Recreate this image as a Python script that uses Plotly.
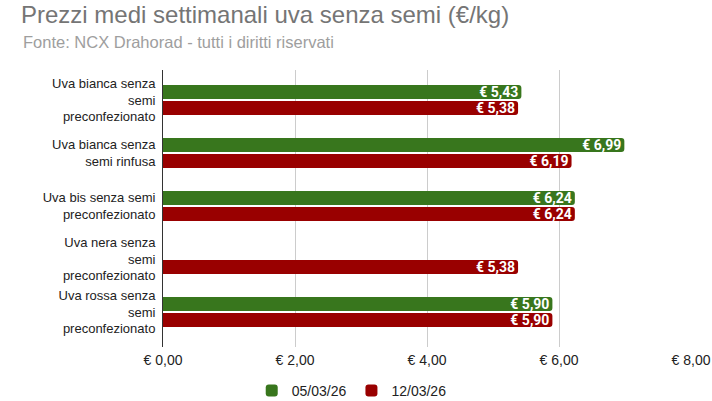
import plotly.graph_objects as go

categories = [
    "Uva bianca senza<br>semi<br>preconfezionato",
    "Uva bianca senza<br>semi rinfusa",
    "Uva bis senza semi<br>preconfezionato",
    "Uva nera senza<br>semi<br>preconfezionato",
    "Uva rossa senza<br>semi<br>preconfezionato",
]
series_names = ["05/03/26", "12/03/26"]
values_0503 = [5.43, 6.99, 6.24, None, 5.90]
values_1203 = [5.38, 6.19, 6.24, 5.38, 5.90]
tick_vals = [0, 2, 4, 6, 8]
tick_text = ["€ 0,00", "€ 2,00", "€ 4,00", "€ 6,00", "€ 8,00"]

colors = ["#38761d", "#990000"]


def fmt(v):
    return "" if v is None else "€ " + f"{v:.2f}".replace(".", ",")


fig = go.Figure()
for name, vals, col in zip(series_names, [values_0503, values_1203], colors):
    fig.add_trace(go.Bar(
        y=categories, x=vals, name=name, orientation="h",
        marker=dict(color=col, cornerradius=3, line=dict(width=0)),
        text=[fmt(v) for v in vals], textposition="inside",
        insidetextanchor="end",
        textfont=dict(family="Roboto", size=14, color="white", weight="bold"),
        cliponaxis=False,
    ))

fig.update_layout(
    width=712, height=401,
    margin=dict(l=163, r=21, t=70, b=54, autoexpand=False),
    paper_bgcolor="white", plot_bgcolor="white",
    barmode="group", bargap=0.396, bargroupgap=0.125,
    uniformtext=dict(minsize=14, mode="show"),
    font=dict(family="Liberation Sans, Arial", size=13, color="#222222"),
    title=dict(text="Prezzi medi settimanali uva senza semi (€/kg)",
               x=21/712, xref="container", xanchor="left",
               y=1 - 15/401, yref="container", yanchor="middle",
               pad=dict(l=0, r=0, t=0, b=0),
               font=dict(family="Liberation Sans, Arial", size=24, color="#757575")),
    annotations=[dict(text="Fonte: NCX Drahorad - tutti i diritti riservati",
                      xref="paper", yref="paper", x=-142/528, y=1 + 28/277,
                      xanchor="left", yanchor="middle", showarrow=False,
                      font=dict(family="Liberation Sans, Arial", size=16.5, color="#9e9e9e"))],
    legend=dict(orientation="h", x=0.494, xref="container", xanchor="center",
                y=10/401, yref="container", yanchor="middle",
                font=dict(size=14, color="#222222"), itemwidth=30, traceorder="normal"),
    xaxis=dict(range=[0, 8], tickvals=tick_vals, ticktext=tick_text,
               showgrid=True, gridcolor="#cccccc", gridwidth=1, zeroline=False,
               ticks="", automargin=False, ticklabelstandoff=3,
               tickfont=dict(size=14, color="#222222"), fixedrange=True),
    yaxis=dict(range=[4.66, -0.566], showline=True, linecolor="#333333", linewidth=1,
               ticks="", ticklabelstandoff=4, automargin=False, fixedrange=True,
               tickfont=dict(size=13, color="#222222")),
)

fig.write_html("out.html", post_script="document.body.style.margin='0px';",
               config={"displayModeBar": False})
